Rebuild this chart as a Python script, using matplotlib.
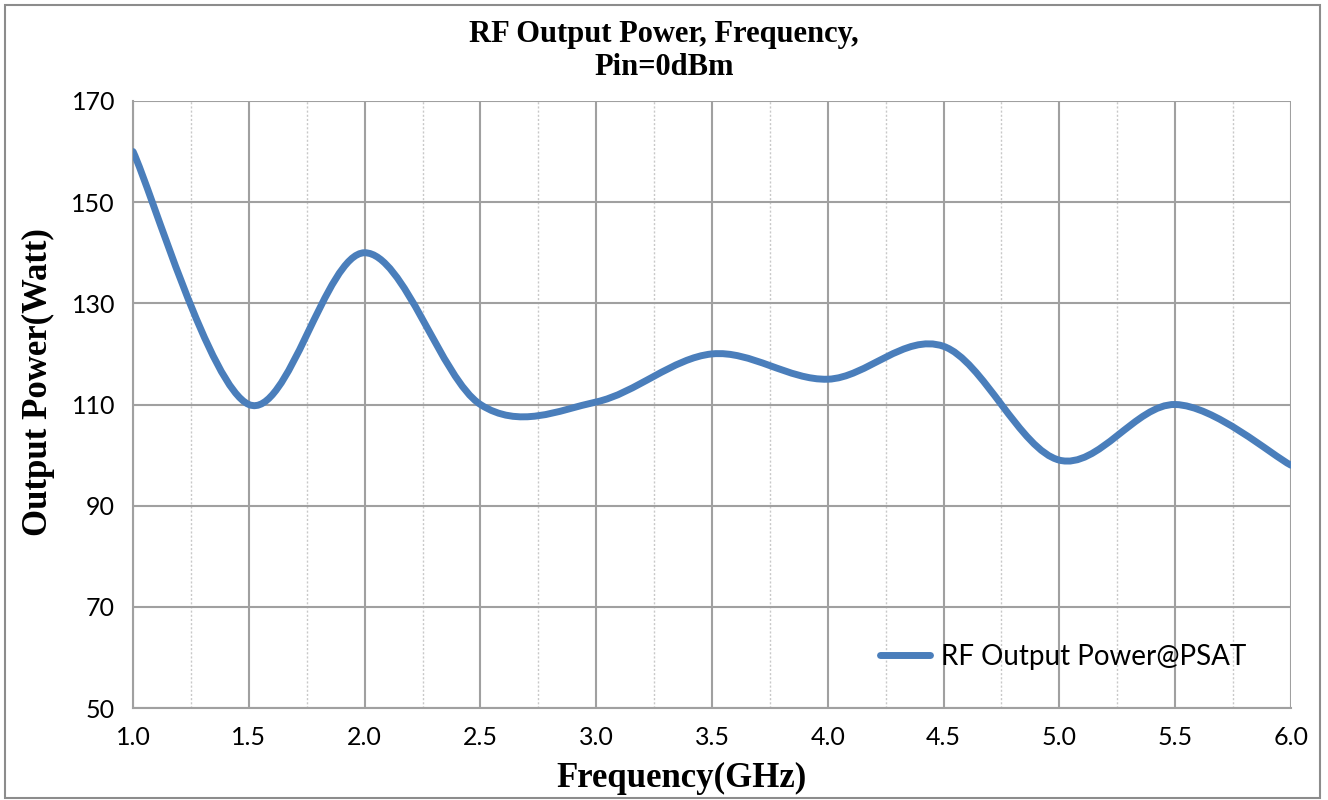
import numpy as np
import matplotlib.pyplot as plt
from matplotlib.path import Path
from matplotlib.patches import PathPatch, Rectangle
from matplotlib.lines import Line2D

freq_ghz = [1.0, 1.5, 2.0, 2.5, 3.0, 3.5, 4.0, 4.5, 5.0, 5.5, 6.0]
power_w = [160, 110, 140, 110, 110.5, 120, 115, 121.5, 99, 110, 98]
series_name = 'RF Output Power@PSAT'
x_ticks = [1.0, 1.5, 2.0, 2.5, 3.0, 3.5, 4.0, 4.5, 5.0, 5.5, 6.0]
y_ticks = [50, 70, 90, 110, 130, 150, 170]

LINE_COLOR = '#4a7ebb'
GRID_COLOR = '#a0a0a0'


def smooth_path(xs, ys, t=1/6.):
    """ Excel-like smoothed line: cubic bezier through each point. """
    xs = np.asarray(xs, float)
    ys = np.asarray(ys, float)
    n = len(xs)
    verts = [(xs[0], ys[0])]
    codes = [Path.MOVETO]
    for i in range(n - 1):
        p0 = max(i - 1, 0)
        p3 = min(i + 2, n - 1)
        c1 = (xs[i] + (xs[i+1] - xs[p0]) * t, ys[i] + (ys[i+1] - ys[p0]) * t)
        c2 = (xs[i+1] - (xs[p3] - xs[i]) * t, ys[i+1] - (ys[p3] - ys[i]) * t)
        verts += [c1, c2, (xs[i+1], ys[i+1])]
        codes += [Path.CURVE4] * 3
    return Path(verts, codes)


fig = plt.figure(figsize=(13.28, 8), dpi=100)
ax = fig.add_axes([0.1002, 0.115, 0.8719, 0.75875])

ax.add_patch(PathPatch(smooth_path(freq_ghz, power_w), fill=False,
                       edgecolor=LINE_COLOR, lw=5, capstyle='round',
                       joinstyle='round', zorder=3))

ax.set_xlim(1.0, 6.0)
ax.set_ylim(50, 170)
ax.set_xticks(x_ticks)
ax.set_xticks(np.arange(1.25, 6.0, 0.5), minor=True)
ax.set_yticks(y_ticks)
ax.set_xticklabels(['%.1f' % v for v in x_ticks])
ax.set_yticklabels([str(v) for v in y_ticks])

ax.grid(which='major', color=GRID_COLOR, lw=1.5, ls='-')
ax.grid(which='minor', axis='x', color='#c8c8c8', lw=1, ls=(0, (1.5, 1.5)))
ax.set_axisbelow(True)

for s in ['top', 'right']:
    ax.spines[s].set_visible(False)
for s in ['left', 'bottom']:
    ax.spines[s].set_color(GRID_COLOR)
    ax.spines[s].set_linewidth(1.5)

ax.tick_params(which='both', length=0)
ax.tick_params(axis='x', pad=13, labelsize=18)
ax.tick_params(axis='y', pad=13, labelsize=18)
for lab in ax.get_xticklabels() + ax.get_yticklabels():
    lab.set_fontfamily('Lato')

fig.text(682 / 1328, 1 - 778 / 800, 'Frequency(GHz)', ha='center', va='center',
         fontsize=25, fontweight='bold', family='Liberation Serif')
fig.text(38 / 1328, 1 - 382 / 800, 'Output Power(Watt)', ha='center', va='center',
         rotation=90, fontsize=25, fontweight='bold', family='Liberation Serif')
fig.text(0.5, 1 - 51 / 800, 'RF Output Power, Frequency,\nPin=0dBm', ha='center',
         va='center', fontsize=22, fontweight='bold', family='Liberation Serif',
         linespacing=1.2)

handle = Line2D([], [], color=LINE_COLOR, lw=5, solid_capstyle='round')
leg = ax.legend([handle], [series_name], loc='center left',
                bbox_to_anchor=((880 - 133) / 1158, (708 - 657) / 607),
                frameon=False, borderpad=0, borderaxespad=0,
                handlelength=1.8, handletextpad=0.4,
                prop={'family': 'Lato', 'size': 20})

fig.patches.append(Rectangle((0.004, 0.002), 0.99, 0.992, transform=fig.transFigure,
                             fill=False, edgecolor='#8c8c8c', lw=1.5))

fig.savefig('out.png', dpi=100)
